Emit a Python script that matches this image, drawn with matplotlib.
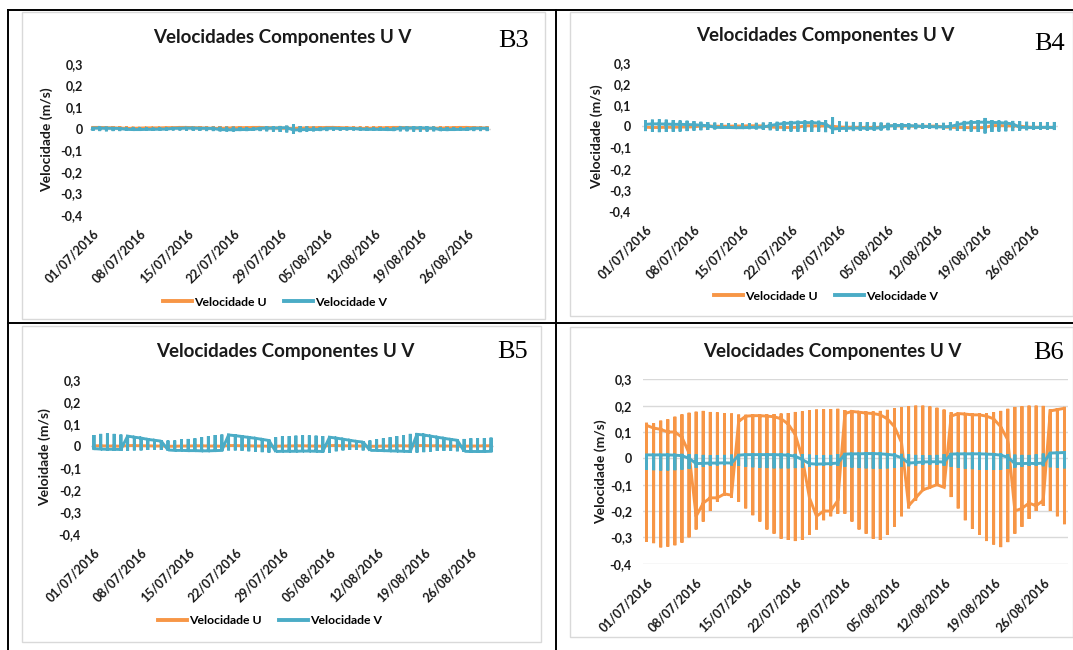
import numpy as np
import matplotlib.pyplot as plt
from matplotlib.patches import Rectangle
from matplotlib.lines import Line2D

# Canvas size in pixels
W, H = 1073, 650
fig = plt.figure(figsize=(W / 100, H / 100), dpi=100)

# Daily sampling, 01/07/2016 .. 29/08/2016
days = np.arange(1, 61)
date_labels = ['01/07/2016', '08/07/2016', '15/07/2016', '22/07/2016',
               '29/07/2016', '05/08/2016', '12/08/2016', '19/08/2016',
               '26/08/2016']
y_ticks = [0.3, 0.2, 0.1, 0, -0.1, -0.2, -0.3, -0.4]

# B3 - daily max / min and value at the day change
b3_u_hi = [0.010, 0.011, 0.012, 0.012, 0.011, 0.010, 0.009, 0.008, 0.008, 0.007,
           0.007, 0.008, 0.008, 0.009, 0.010, 0.011, 0.011, 0.012, 0.012, 0.012,
           0.011, 0.010, 0.010, 0.009, 0.009, 0.010, 0.011, 0.012, 0.013, 0.013,
           0.013, 0.012, 0.011, 0.010, 0.009, 0.008, 0.008, 0.008, 0.009, 0.010,
           0.010, 0.011, 0.011, 0.012, 0.012, 0.012, 0.011, 0.010, 0.010, 0.009,
           0.009, 0.010, 0.011, 0.011, 0.012, 0.012, 0.011, 0.011, 0.010, 0.010]
b3_u_lo = [-0.004, -0.005, -0.005, -0.006, -0.005, -0.005, -0.004, -0.004, -0.003, -0.003,
           -0.003, -0.004, -0.004, -0.005, -0.005, -0.006, -0.006, -0.006, -0.005, -0.005,
           -0.004, -0.004, -0.004, -0.004, -0.005, -0.005, -0.006, -0.006, -0.007, -0.007,
           -0.007, -0.006, -0.005, -0.005, -0.004, -0.004, -0.003, -0.003, -0.004, -0.004,
           -0.005, -0.005, -0.006, -0.006, -0.006, -0.005, -0.005, -0.004, -0.004, -0.004,
           -0.004, -0.005, -0.005, -0.006, -0.006, -0.006, -0.005, -0.005, -0.004, -0.004]
b3_u_mid = [0.006, 0.006, 0.005, 0.004, 0.003, 0.002, 0.002, 0.003, 0.004, 0.004,
            0.004, 0.005, 0.005, 0.006, 0.006, 0.005, 0.004, 0.003, 0.002, 0.002,
            0.003, 0.004, 0.005, 0.005, 0.006, 0.006, 0.005, 0.004, 0.003, 0.002,
            0.002, 0.003, 0.004, 0.005, 0.005, 0.006, 0.006, 0.005, 0.004, 0.003,
            0.002, 0.002, 0.003, 0.004, 0.005, 0.006, 0.006, 0.005, 0.004, 0.003,
            0.002, 0.002, 0.003, 0.004, 0.005, 0.006, 0.006, 0.005, 0.004, 0.003]
b3_v_hi = [0.008, 0.009, 0.009, 0.008, 0.008, 0.007, 0.007, 0.006, 0.006, 0.005,
           0.005, 0.005, 0.006, 0.006, 0.007, 0.007, 0.008, 0.008, 0.009, 0.009,
           0.009, 0.009, 0.008, 0.008, 0.007, 0.008, 0.009, 0.010, 0.012, 0.014,
           0.020, 0.012, 0.010, 0.009, 0.008, 0.008, 0.007, 0.006, 0.006, 0.005,
           0.005, 0.005, 0.006, 0.007, 0.007, 0.008, 0.009, 0.009, 0.010, 0.010,
           0.010, 0.009, 0.008, 0.008, 0.007, 0.007, 0.007, 0.008, 0.008, 0.008]
b3_v_lo = [-0.010, -0.011, -0.012, -0.011, -0.011, -0.010, -0.010, -0.009, -0.008, -0.008,
           -0.007, -0.007, -0.008, -0.008, -0.009, -0.010, -0.010, -0.011, -0.011, -0.012,
           -0.012, -0.012, -0.011, -0.011, -0.010, -0.011, -0.012, -0.013, -0.015, -0.017,
           -0.024, -0.016, -0.013, -0.012, -0.011, -0.011, -0.010, -0.009, -0.008, -0.008,
           -0.007, -0.007, -0.008, -0.009, -0.010, -0.011, -0.012, -0.012, -0.013, -0.013,
           -0.013, -0.012, -0.011, -0.011, -0.010, -0.010, -0.010, -0.011, -0.011, -0.011]
b3_v_mid = [0.003, 0.003, 0.002, 0.002, 0.001, -0.003, -0.004, -0.004, -0.003, -0.003,
            -0.002, -0.002, 0.002, 0.002, 0.003, 0.003, 0.002, 0.002, 0.001, -0.004,
            -0.005, -0.005, -0.004, -0.004, -0.003, 0.002, 0.003, 0.003, 0.004, 0.005,
            -0.006, -0.005, -0.004, -0.004, -0.003, 0.002, 0.002, 0.001, 0.001, 0.001,
            -0.002, -0.003, -0.003, -0.003, -0.004, -0.004, 0.003, 0.003, 0.004, 0.004,
            0.003, 0.002, -0.004, -0.004, -0.004, -0.003, -0.003, 0.002, 0.002, 0.002]

# B4
b4_u_hi = [0.006, 0.007, 0.007, 0.006, 0.006, 0.005, 0.005, 0.004, 0.004, 0.003,
           0.003, 0.003, 0.004, 0.004, 0.005, 0.005, 0.006, 0.006, 0.006, 0.007,
           0.007, 0.007, 0.006, 0.006, 0.005, 0.005, 0.004, 0.004, 0.005, 0.005,
           0.006, 0.006, 0.006, 0.007, 0.007, 0.006, 0.006, 0.005, 0.004, 0.004,
           0.003, 0.003, 0.004, 0.005, 0.005, 0.006, 0.007, 0.007, 0.008, 0.008,
           0.007, 0.007, 0.006, 0.005, 0.004, 0.004, 0.005, 0.005, 0.006, 0.006]
b4_u_lo = [-0.009, -0.010, -0.010, -0.009, -0.009, -0.008, -0.007, -0.006, -0.006, -0.005,
           -0.005, -0.005, -0.006, -0.006, -0.007, -0.008, -0.008, -0.009, -0.009, -0.010,
           -0.010, -0.010, -0.009, -0.008, -0.008, -0.007, -0.007, -0.006, -0.007, -0.008,
           -0.008, -0.009, -0.009, -0.010, -0.010, -0.009, -0.008, -0.007, -0.006, -0.006,
           -0.005, -0.005, -0.006, -0.007, -0.008, -0.009, -0.010, -0.011, -0.011, -0.011,
           -0.010, -0.009, -0.008, -0.007, -0.006, -0.006, -0.007, -0.008, -0.009, -0.009]
b4_u_mid = [-0.004, -0.005, -0.005, -0.004, -0.004, -0.003, -0.003, -0.002, 0.002, 0.002,
            0.001, 0.001, 0.001, 0.002, 0.002, 0.003, 0.003, 0.002, -0.003, -0.004,
            -0.005, -0.005, -0.004, 0.003, 0.003, 0.002, 0.002, 0.001, -0.003, -0.004,
            -0.004, -0.005, -0.005, -0.005, -0.004, 0.003, 0.003, 0.002, 0.002, 0.001,
            0.001, 0.001, 0.002, -0.003, -0.004, -0.005, -0.005, -0.006, -0.006, -0.005,
            0.004, 0.004, 0.003, 0.002, 0.002, -0.003, -0.004, -0.004, -0.005, -0.005]
b4_v_hi = [0.030, 0.032, 0.033, 0.032, 0.030, 0.028, 0.027, 0.025, 0.022, 0.020,
           0.018, 0.016, 0.015, 0.015, 0.015, 0.016, 0.017, 0.018, 0.020, 0.022,
           0.024, 0.026, 0.027, 0.028, 0.028, 0.027, 0.030, 0.044, 0.025, 0.022,
           0.021, 0.020, 0.020, 0.019, 0.018, 0.017, 0.016, 0.015, 0.015, 0.015,
           0.014, 0.014, 0.015, 0.017, 0.020, 0.023, 0.026, 0.028, 0.030, 0.040,
           0.030, 0.028, 0.027, 0.026, 0.024, 0.022, 0.020, 0.019, 0.020, 0.021]
b4_v_lo = [-0.022, -0.025, -0.027, -0.026, -0.025, -0.024, -0.022, -0.020, -0.018, -0.016,
           -0.014, -0.012, -0.011, -0.011, -0.012, -0.013, -0.014, -0.016, -0.018, -0.020,
           -0.022, -0.024, -0.025, -0.026, -0.026, -0.025, -0.027, -0.035, -0.026, -0.024,
           -0.022, -0.021, -0.020, -0.020, -0.019, -0.018, -0.016, -0.015, -0.014, -0.013,
           -0.012, -0.012, -0.013, -0.015, -0.018, -0.020, -0.022, -0.024, -0.026, -0.033,
           -0.026, -0.024, -0.023, -0.022, -0.020, -0.018, -0.016, -0.015, -0.016, -0.017]
b4_v_mid = [0.010, 0.012, 0.012, 0.011, 0.010, 0.010, 0.009, 0.008, 0.006, 0.003,
            -0.004, -0.005, -0.005, -0.006, -0.006, -0.005, -0.004, -0.003, 0.004, 0.010,
            0.014, 0.016, 0.018, 0.018, 0.018, 0.016, 0.012, -0.012, -0.010, -0.009,
            -0.008, -0.008, -0.009, -0.009, -0.006, 0.002, 0.004, 0.005, 0.004, 0.002,
            0.000, -0.001, -0.002, -0.002, 0.000, 0.008, 0.015, 0.018, 0.020, 0.020,
            0.019, 0.018, 0.016, 0.012, -0.004, -0.005, -0.006, -0.005, -0.004, -0.005]

# B5
b5_u_hi = [0.005, 0.006, 0.006, 0.006, 0.005, 0.005, 0.004, 0.004, 0.004, 0.003,
           0.003, 0.004, 0.004, 0.005, 0.005, 0.006, 0.006, 0.006, 0.007, 0.007,
           0.006, 0.006, 0.005, 0.005, 0.004, 0.004, 0.005, 0.005, 0.006, 0.006,
           0.006, 0.006, 0.007, 0.007, 0.006, 0.006, 0.005, 0.004, 0.004, 0.003,
           0.003, 0.004, 0.005, 0.005, 0.006, 0.006, 0.007, 0.007, 0.007, 0.006,
           0.006, 0.005, 0.005, 0.004, 0.004, 0.005, 0.005, 0.006, 0.006, 0.006]
b5_u_lo = [-0.004, -0.005, -0.005, -0.005, -0.004, -0.004, -0.003, -0.003, -0.003, -0.003,
           -0.003, -0.003, -0.004, -0.004, -0.004, -0.005, -0.005, -0.005, -0.006, -0.006,
           -0.005, -0.005, -0.004, -0.004, -0.004, -0.004, -0.004, -0.005, -0.005, -0.005,
           -0.005, -0.005, -0.006, -0.006, -0.005, -0.005, -0.004, -0.004, -0.003, -0.003,
           -0.003, -0.003, -0.004, -0.004, -0.005, -0.005, -0.006, -0.006, -0.006, -0.005,
           -0.005, -0.004, -0.004, -0.004, -0.004, -0.004, -0.005, -0.005, -0.005, -0.005]
b5_u_mid = [0.001, 0.001, 0.000, 0.000, -0.001, 0.002, 0.002, 0.001, 0.001, 0.000,
            0.000, -0.001, -0.001, 0.000, 0.000, 0.001, 0.001, 0.000, 0.000, -0.001,
            0.002, 0.002, 0.001, 0.001, 0.000, 0.000, -0.001, -0.001, 0.000, 0.000,
            0.001, 0.001, 0.000, 0.000, -0.001, 0.002, 0.002, 0.001, 0.001, 0.000,
            0.000, -0.001, -0.001, 0.000, 0.000, 0.001, 0.001, 0.000, 0.002, 0.002,
            0.001, 0.001, 0.000, 0.000, -0.001, -0.001, 0.000, 0.000, 0.001, 0.001]
b5_v_hi = [0.050, 0.055, 0.057, 0.055, 0.052, 0.048, 0.044, 0.040, 0.035, 0.030,
           0.027, 0.025, 0.025, 0.030, 0.032, 0.035, 0.040, 0.045, 0.050, 0.052,
           0.055, 0.052, 0.048, 0.044, 0.040, 0.035, 0.030, 0.040, 0.045, 0.045,
           0.047, 0.048, 0.048, 0.047, 0.045, 0.045, 0.040, 0.035, 0.030, 0.025,
           0.022, 0.025, 0.030, 0.035, 0.040, 0.045, 0.050, 0.055, 0.058, 0.055,
           0.050, 0.045, 0.040, 0.035, 0.030, 0.032, 0.035, 0.035, 0.036, 0.038]
b5_v_lo = [-0.015, -0.018, -0.020, -0.020, -0.022, -0.022, -0.020, -0.020, -0.018, -0.016,
           -0.018, -0.020, -0.022, -0.022, -0.024, -0.024, -0.025, -0.025, -0.024, -0.022,
           -0.020, -0.020, -0.022, -0.024, -0.026, -0.028, -0.030, -0.028, -0.027, -0.026,
           -0.026, -0.025, -0.025, -0.026, -0.028, -0.030, -0.024, -0.020, -0.018, -0.018,
           -0.020, -0.022, -0.022, -0.024, -0.025, -0.026, -0.026, -0.028, -0.030, -0.028,
           -0.025, -0.022, -0.022, -0.022, -0.024, -0.026, -0.028, -0.028, -0.027, -0.027]
b5_v_mid = [-0.012, -0.014, -0.015, -0.015, -0.016, 0.045, 0.040, 0.036, 0.030, 0.026,
            0.022, -0.018, -0.020, -0.020, -0.021, -0.021, -0.022, -0.022, -0.021, -0.020,
            0.050, 0.047, 0.043, 0.039, 0.035, 0.030, 0.025, -0.025, -0.024, -0.024,
            -0.024, -0.023, -0.023, -0.024, -0.025, 0.040, 0.036, 0.031, 0.026, 0.021,
            0.018, -0.020, -0.020, -0.021, -0.022, -0.023, -0.024, -0.025, 0.053, 0.050,
            0.045, 0.040, 0.035, 0.030, 0.026, -0.024, -0.025, -0.025, -0.025, -0.024]

# B6
b6_u_hi = [0.135, 0.133, 0.143, 0.148, 0.158, 0.167, 0.173, 0.177, 0.180, 0.176,
           0.174, 0.172, 0.170, 0.166, 0.165, 0.165, 0.165, 0.166, 0.168, 0.170,
           0.172, 0.176, 0.178, 0.182, 0.185, 0.186, 0.187, 0.188, 0.183, 0.180,
           0.178, 0.177, 0.178, 0.180, 0.184, 0.190, 0.195, 0.198, 0.200, 0.200,
           0.197, 0.192, 0.185, 0.175, 0.171, 0.170, 0.170, 0.171, 0.172, 0.175,
           0.180, 0.188, 0.195, 0.198, 0.200, 0.200, 0.199, 0.186, 0.190, 0.195]
b6_u_lo = [-0.316, -0.322, -0.338, -0.335, -0.330, -0.320, -0.300, -0.270, -0.240, -0.200,
           -0.165, -0.142, -0.150, -0.165, -0.190, -0.216, -0.240, -0.270, -0.286, -0.305,
           -0.310, -0.314, -0.310, -0.290, -0.270, -0.235, -0.220, -0.210, -0.210, -0.240,
           -0.270, -0.286, -0.305, -0.310, -0.290, -0.260, -0.220, -0.190, -0.160, -0.120,
           -0.110, -0.100, -0.110, -0.147, -0.190, -0.235, -0.267, -0.290, -0.314, -0.327,
           -0.337, -0.318, -0.286, -0.260, -0.230, -0.200, -0.180, -0.200, -0.220, -0.250]
b6_u_mid = [0.125, 0.115, 0.110, 0.100, 0.100, 0.080, 0.020, -0.220, -0.170, -0.150,
            -0.150, -0.135, -0.140, 0.140, 0.160, 0.162, 0.162, 0.160, 0.158, 0.150,
            0.130, 0.090, 0.000, -0.150, -0.220, -0.200, -0.200, -0.160, 0.170, 0.178,
            0.175, 0.172, 0.170, 0.165, 0.150, 0.120, 0.060, -0.180, -0.150, -0.120,
            -0.110, -0.100, -0.110, 0.160, 0.170, 0.168, 0.165, 0.165, 0.160, 0.150,
            0.120, 0.070, -0.200, -0.190, -0.170, -0.180, -0.160, 0.180, 0.185, 0.190]
b6_v_hi = [0.015, 0.016, 0.016, 0.017, 0.017, 0.017, 0.016, 0.015, 0.013, 0.012,
           0.012, 0.013, 0.014, 0.015, 0.016, 0.017, 0.017, 0.018, 0.018, 0.018,
           0.018, 0.017, 0.016, 0.014, 0.012, 0.012, 0.013, 0.016, 0.019, 0.020,
           0.020, 0.021, 0.021, 0.021, 0.020, 0.019, 0.017, 0.015, 0.013, 0.012,
           0.012, 0.013, 0.016, 0.019, 0.020, 0.020, 0.021, 0.021, 0.020, 0.019,
           0.018, 0.016, 0.014, 0.013, 0.013, 0.015, 0.018, 0.022, 0.024, 0.025]
b6_v_lo = [-0.044, -0.045, -0.046, -0.046, -0.045, -0.043, -0.040, -0.036, -0.032, -0.029,
           -0.027, -0.026, -0.027, -0.029, -0.032, -0.034, -0.036, -0.037, -0.038, -0.038,
           -0.038, -0.037, -0.035, -0.032, -0.029, -0.027, -0.027, -0.029, -0.032, -0.035,
           -0.037, -0.038, -0.039, -0.039, -0.038, -0.036, -0.033, -0.030, -0.027, -0.025,
           -0.024, -0.025, -0.028, -0.032, -0.036, -0.039, -0.041, -0.043, -0.044, -0.044,
           -0.043, -0.040, -0.036, -0.032, -0.029, -0.028, -0.030, -0.034, -0.036, -0.038]
b6_v_mid = [0.013, 0.013, 0.013, 0.013, 0.012, 0.010, 0.000, -0.020, -0.019, -0.018,
            -0.018, -0.017, -0.018, 0.012, 0.014, 0.014, 0.014, 0.014, 0.014, 0.013,
            0.012, 0.008, -0.005, -0.020, -0.022, -0.021, -0.020, -0.018, 0.016, 0.017,
            0.017, 0.018, 0.018, 0.017, 0.015, 0.012, 0.002, -0.018, -0.016, -0.014,
            -0.013, -0.013, -0.014, 0.016, 0.017, 0.017, 0.017, 0.017, 0.016, 0.015,
            0.012, 0.004, -0.020, -0.020, -0.019, -0.020, -0.018, 0.020, 0.021, 0.022]

ORANGE = '#F79646'
BLUE = '#4BACC6'
FRAME = '#D9D9D9'
TEXT = '#1a1a1a'
FONT = 'Lato'


def fx(px):
    return px / W


def fy(py):
    return 1 - py / H


def daily_path(mid, hi, lo):
    # every reading of one day sits on the same x, so each day is a vertical
    # stroke from min to max, joined to the next day at the day change value
    x = np.repeat(days, 4)
    y = np.column_stack([mid, hi, lo, mid]).ravel()
    return x, y


def panel(left, right, top, bottom, u, v, tag, ylabel, title_xy, tag_xy,
          ylabel_x, ypad, grid=False, legend_xy=None):
    ax = fig.add_axes([fx(left), fy(bottom), fx(right - left), (bottom - top) / H])
    ax.set_facecolor('none')
    ax.set_xlim(0.5, 60.5)
    ax.set_ylim(-0.4, 0.3)
    for s in ax.spines.values():
        s.set_visible(False)

    if grid:
        for t in y_ticks:
            ax.axhline(t, color=FRAME, lw=1.0, zorder=0)
    else:
        ax.axhline(0, color=FRAME, lw=1.0, zorder=0)

    xu, yu = daily_path(*u)
    xv, yv = daily_path(*v)
    ax.plot(xu, yu, color=ORANGE, lw=2.1, solid_joinstyle='miter',
            label='Velocidade U', zorder=2)
    ax.plot(xv, yv, color=BLUE, lw=2.1, solid_joinstyle='miter',
            label='Velocidade V', zorder=3)

    ax.set_yticks(y_ticks)
    ax.set_yticklabels([('%g' % t).replace('.', ',') for t in y_ticks],
                       fontsize=9, fontweight='bold', color=TEXT, family=FONT)
    ax.set_xticks(days[::7])
    ax.set_xticklabels(date_labels, rotation=45, ha='right', va='top',
                       rotation_mode='anchor', fontsize=9, fontweight='bold',
                       color=TEXT, family=FONT)
    ax.tick_params(axis='y', length=0, pad=ypad)
    ax.tick_params(axis='x', length=0, pad=9)

    fig.text(fx(title_xy[0]), fy(title_xy[1]), 'Velocidades Componentes U V',
             ha='center', va='center', fontsize=13.5, fontweight='bold',
             color=TEXT, family=FONT)
    fig.text(fx(tag_xy[0]), fy(tag_xy[1]), tag, ha='center', va='center',
             fontsize=19, color='black', family='Liberation Serif')
    fig.text(fx(ylabel_x), fy((top + bottom) / 2), ylabel, rotation=90,
             ha='center', va='center', fontsize=10, fontweight='bold',
             color=TEXT, family=FONT)

    if legend_xy is not None:
        leg = ax.legend(loc='center', ncol=2, frameon=False,
                        bbox_to_anchor=(fx(legend_xy[0]), fy(legend_xy[1])),
                        bbox_transform=fig.transFigure, handlelength=2.4,
                        handletextpad=0.15, columnspacing=1.4,
                        prop={'family': FONT, 'weight': 'bold', 'size': 8.8})
        for h in leg.legend_handles:
            h.set_linewidth(2.8)
    return ax


# chart frames (light grey) and table rules (black)
for x0, y0, x1, y1 in [(22, 12, 545, 319), (570, 12, 1073, 316),
                       (22, 326, 541, 642), (570, 327, 1073, 637)]:
    fig.add_artist(Rectangle((fx(x0), fy(y1)), fx(x1 - x0), (y1 - y0) / H,
                             transform=fig.transFigure, facecolor='white',
                             edgecolor=FRAME, lw=1.0, zorder=-2))
for (xa, ya), (xb, yb) in [((8, 10), (1073, 10)), ((8, 323), (1073, 323)),
                           ((8, 10), (8, 650)), ((556, 10), (556, 650))]:
    fig.add_artist(Line2D([fx(xa), fx(xb)], [fy(ya), fy(yb)],
                          transform=fig.transFigure, color='black', lw=1.4,
                          zorder=-1))

panel(89.7, 490.5, 64, 215,
      (b3_u_mid, b3_u_hi, b3_u_lo), (b3_v_mid, b3_v_hi, b3_v_lo),
      'B3', 'Velocidade (m/s)', (282, 37), (514, 41), 47, 5,
      legend_xy=(275, 302))
panel(642, 1057.8, 63, 211,
      (b4_u_mid, b4_u_hi, b4_u_lo), (b4_v_mid, b4_v_hi, b4_v_lo),
      'B4', 'Velocidade (m/s)', (825, 36), (1050, 44), 597, 8,
      legend_xy=(826, 296))
panel(90.6, 494.4, 380, 534,
      (b5_u_mid, b5_u_hi, b5_u_lo), (b5_v_mid, b5_v_hi, b5_v_lo),
      'B5', 'Veloidade (m/s)', (285, 351), (513, 352), 45, 7,
      legend_xy=(270, 621))
panel(643, 1068, 379.3, 563.7,
      (b6_u_mid, b6_u_hi, b6_u_lo), (b6_v_mid, b6_v_hi, b6_v_lo),
      'B6', 'Velocidade (m/s)', (832, 351), (1049, 353), 601, 8, grid=True)

fig.savefig('out.png', dpi=100, facecolor='white')
